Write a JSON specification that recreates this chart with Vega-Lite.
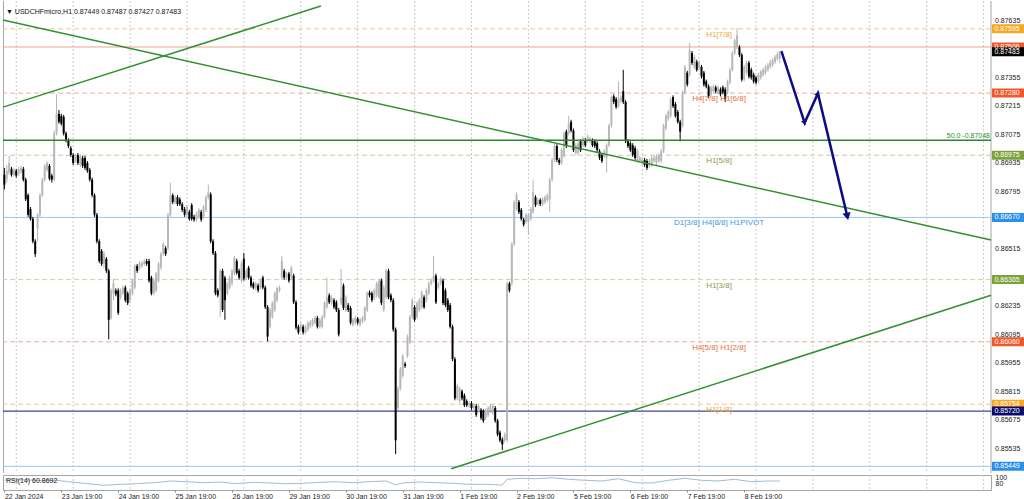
{
"$schema":"https://vega.github.io/schema/vega-lite/v6.json",
"background":"#ffffff",
"padding":{"left":0,"top":0,"right":0,"bottom":0},
"autosize":{"type":"pad"},
"bounds":"flush",
"spacing":2,
"config":{"view":{"stroke":null},"font":"Liberation Sans"},
"datasets":{
"grid":[{"g":5},{"g":29},{"g":53},{"g":77},{"g":101},{"g":125},{"g":149},{"g":173},{"g":197},{"g":221},{"g":245},{"g":269},{"g":293},{"g":317},{"g":341},{"g":365},{"g":389},{"g":413}],
"levels":[
{"p":0.87595,"k":"o","tag":"H1[7/8]"},
{"p":0.87506,"k":"p","tag":""},
{"p":0.87483,"k":"k","tag":""},
{"p":0.8728,"k":"r","tag":"H4[7/8] H1[6/8]"},
{"p":0.86975,"k":"g","tag":"H1[5/8]"},
{"p":0.8667,"k":"b","tag":"D1[3/8] H4[8/8] H1PIVOT"},
{"p":0.86365,"k":"g","tag":"H1[3/8]"},
{"p":0.8606,"k":"r","tag":"H4[5/8] H1[2/8]"},
{"p":0.85754,"k":"o","tag":"H1[1/8]"},
{"p":0.8572,"k":"n","tag":""},
{"p":0.85449,"k":"b","tag":""}
],
"ticks":[{"p":0.87635},{"p":0.87355},{"p":0.87215},{"p":0.87075},{"p":0.86935},{"p":0.86795},{"p":0.86515},{"p":0.86375},{"p":0.86235},{"p":0.86095},{"p":0.85955},{"p":0.85815},{"p":0.85675},{"p":0.85535}],
"trend":[{"id":"a","i":-0.59,"p":0.87211},{"id":"a","i":133.5,"p":0.87707},{"id":"b","i":-0.59,"p":0.87638},{"id":"b","i":416.1,"p":0.86559},{"id":"c","i":188.4,"p":0.85437},{"id":"c","i":416.1,"p":0.86288}],
"arrow":[{"n":0,"i":327.7,"p":0.87486},{"n":1,"i":337.5,"p":0.87134},{"n":2,"i":343.1,"p":0.87278},{"n":3,"i":355.5,"p":0.86675}],
"rsi":[{"i":0,"v":91.3},{"i":8,"v":92.3},{"i":15,"v":89.7},{"i":22,"v":90.3},{"i":27,"v":85.7},{"i":35,"v":79.0},{"i":42,"v":73.7},{"i":49,"v":77.0},{"i":56,"v":79.0},{"i":63,"v":82.3},{"i":70,"v":88.0},{"i":77,"v":85.7},{"i":84,"v":82.3},{"i":91,"v":84.7},{"i":98,"v":79.0},{"i":105,"v":83.7},{"i":112,"v":81.3},{"i":119,"v":79.0},{"i":126,"v":80.3},{"i":133,"v":83.7},{"i":140,"v":85.7},{"i":147,"v":82.3},{"i":154,"v":85.7},{"i":161,"v":88.0},{"i":165,"v":75.0},{"i":168,"v":81.3},{"i":175,"v":84.7},{"i":182,"v":82.3},{"i":189,"v":80.3},{"i":196,"v":77.0},{"i":203,"v":77.0},{"i":210,"v":74.7},{"i":212,"v":93.7},{"i":218,"v":97.0},{"i":224,"v":95.7},{"i":231,"v":99.0},{"i":238,"v":93.7},{"i":245,"v":90.3},{"i":252,"v":88.0},{"i":259,"v":95.7},{"i":266,"v":82.3},{"i":273,"v":81.3},{"i":280,"v":90.3},{"i":287,"v":97.0},{"i":294,"v":90.3},{"i":301,"v":88.0},{"i":308,"v":93.7},{"i":315,"v":85.7},{"i":322,"v":88.0},{"i":327,"v":88.0}],
"candles":[
{"i":0,"o":0.86879,"h":0.86913,"l":0.86807,"c":0.86831},
{"i":1,"o":0.8686,"h":0.86927,"l":0.86841,"c":0.86899},
{"i":2,"o":0.86889,"h":0.86972,"l":0.86879,"c":0.86937},
{"i":3,"o":0.86908,"h":0.86918,"l":0.8687,"c":0.86879},
{"i":4,"o":0.86879,"h":0.86913,"l":0.8687,"c":0.86903},
{"i":5,"o":0.86899,"h":0.86908,"l":0.86865,"c":0.86875},
{"i":6,"o":0.86884,"h":0.86918,"l":0.86875,"c":0.86908},
{"i":7,"o":0.86894,"h":0.86923,"l":0.86884,"c":0.86913},
{"i":8,"o":0.86908,"h":0.86918,"l":0.86846,"c":0.86855},
{"i":9,"o":0.86855,"h":0.86865,"l":0.8675,"c":0.86759},
{"i":10,"o":0.86779,"h":0.86788,"l":0.86673,"c":0.86683},
{"i":11,"o":0.86711,"h":0.86721,"l":0.86654,"c":0.86663},
{"i":12,"o":0.86663,"h":0.86673,"l":0.86543,"c":0.86553},
{"i":13,"o":0.86553,"h":0.86563,"l":0.86476,"c":0.86491},
{"i":14,"o":0.86615,"h":0.86692,"l":0.86553,"c":0.86683},
{"i":15,"o":0.86683,"h":0.86788,"l":0.86673,"c":0.86779},
{"i":16,"o":0.86779,"h":0.86865,"l":0.86769,"c":0.86855},
{"i":17,"o":0.86855,"h":0.86932,"l":0.86846,"c":0.86923},
{"i":18,"o":0.86903,"h":0.86947,"l":0.86894,"c":0.86937},
{"i":19,"o":0.86923,"h":0.86932,"l":0.86851,"c":0.8686},
{"i":20,"o":0.86875,"h":0.86884,"l":0.86841,"c":0.86855},
{"i":21,"o":0.86855,"h":0.87096,"l":0.86846,"c":0.87082},
{"i":22,"o":0.87082,"h":0.87274,"l":0.87072,"c":0.87178},
{"i":23,"o":0.87178,"h":0.87197,"l":0.8713,"c":0.87139},
{"i":24,"o":0.87168,"h":0.87178,"l":0.8712,"c":0.8713},
{"i":25,"o":0.87163,"h":0.87173,"l":0.87072,"c":0.87082},
{"i":26,"o":0.87082,"h":0.87091,"l":0.87038,"c":0.87048},
{"i":27,"o":0.87048,"h":0.87058,"l":0.8701,"c":0.8702},
{"i":28,"o":0.8701,"h":0.8702,"l":0.86967,"c":0.86976},
{"i":29,"o":0.86976,"h":0.86986,"l":0.86927,"c":0.86937},
{"i":30,"o":0.86947,"h":0.86981,"l":0.86937,"c":0.86972},
{"i":31,"o":0.86976,"h":0.86986,"l":0.86927,"c":0.86937},
{"i":32,"o":0.86927,"h":0.86981,"l":0.86918,"c":0.86972},
{"i":33,"o":0.86962,"h":0.86972,"l":0.86913,"c":0.86923},
{"i":34,"o":0.86962,"h":0.86972,"l":0.86903,"c":0.86913},
{"i":35,"o":0.86937,"h":0.86947,"l":0.86889,"c":0.86899},
{"i":36,"o":0.86903,"h":0.86913,"l":0.86846,"c":0.86855},
{"i":37,"o":0.86855,"h":0.86865,"l":0.86769,"c":0.86779},
{"i":38,"o":0.86779,"h":0.86788,"l":0.86673,"c":0.86683},
{"i":39,"o":0.86683,"h":0.86692,"l":0.86543,"c":0.86553},
{"i":40,"o":0.86553,"h":0.86563,"l":0.86446,"c":0.86456},
{"i":41,"o":0.86505,"h":0.86515,"l":0.86432,"c":0.86442},
{"i":42,"o":0.86442,"h":0.86505,"l":0.86423,"c":0.86491},
{"i":43,"o":0.86467,"h":0.86476,"l":0.86398,"c":0.86408},
{"i":44,"o":0.86408,"h":0.86418,"l":0.86072,"c":0.86168},
{"i":45,"o":0.86177,"h":0.86322,"l":0.86168,"c":0.86312},
{"i":46,"o":0.86298,"h":0.8637,"l":0.86264,"c":0.86346},
{"i":47,"o":0.86312,"h":0.86322,"l":0.86283,"c":0.86293},
{"i":48,"o":0.86312,"h":0.86322,"l":0.86192,"c":0.86202},
{"i":49,"o":0.86278,"h":0.86322,"l":0.86269,"c":0.86312},
{"i":50,"o":0.86298,"h":0.86336,"l":0.86288,"c":0.86326},
{"i":51,"o":0.86326,"h":0.86336,"l":0.86254,"c":0.86264},
{"i":52,"o":0.86298,"h":0.86307,"l":0.8624,"c":0.8625},
{"i":53,"o":0.86264,"h":0.86322,"l":0.86254,"c":0.86312},
{"i":54,"o":0.86298,"h":0.8637,"l":0.86288,"c":0.8636},
{"i":55,"o":0.86326,"h":0.86442,"l":0.86317,"c":0.86432},
{"i":56,"o":0.86432,"h":0.86442,"l":0.86398,"c":0.86408},
{"i":57,"o":0.86423,"h":0.86456,"l":0.86413,"c":0.86446},
{"i":58,"o":0.86432,"h":0.86456,"l":0.86423,"c":0.86446},
{"i":59,"o":0.86442,"h":0.86467,"l":0.86432,"c":0.86456},
{"i":60,"o":0.86456,"h":0.86467,"l":0.86432,"c":0.86442},
{"i":61,"o":0.86456,"h":0.86467,"l":0.8635,"c":0.8636},
{"i":62,"o":0.86375,"h":0.86384,"l":0.86288,"c":0.86298},
{"i":63,"o":0.86298,"h":0.8637,"l":0.86288,"c":0.8636},
{"i":64,"o":0.86312,"h":0.86403,"l":0.86302,"c":0.86394},
{"i":65,"o":0.8636,"h":0.86451,"l":0.8635,"c":0.86442},
{"i":66,"o":0.86423,"h":0.865,"l":0.86413,"c":0.86491},
{"i":67,"o":0.86491,"h":0.86548,"l":0.86481,"c":0.86539},
{"i":68,"o":0.86519,"h":0.86529,"l":0.86481,"c":0.86491},
{"i":69,"o":0.86519,"h":0.86692,"l":0.8651,"c":0.86683},
{"i":70,"o":0.86683,"h":0.86841,"l":0.86673,"c":0.86779},
{"i":71,"o":0.86779,"h":0.86788,"l":0.86735,"c":0.86745},
{"i":72,"o":0.86745,"h":0.86779,"l":0.86735,"c":0.86769},
{"i":73,"o":0.86769,"h":0.86779,"l":0.86726,"c":0.86735},
{"i":74,"o":0.86759,"h":0.86769,"l":0.86726,"c":0.86735},
{"i":75,"o":0.86735,"h":0.86745,"l":0.86697,"c":0.86707},
{"i":76,"o":0.86711,"h":0.86721,"l":0.86673,"c":0.86683},
{"i":77,"o":0.86683,"h":0.86731,"l":0.86673,"c":0.86721},
{"i":78,"o":0.86697,"h":0.86707,"l":0.86654,"c":0.86663},
{"i":79,"o":0.86731,"h":0.8674,"l":0.86654,"c":0.86663},
{"i":80,"o":0.86673,"h":0.86683,"l":0.86649,"c":0.86659},
{"i":81,"o":0.86659,"h":0.86697,"l":0.86649,"c":0.86687},
{"i":82,"o":0.86673,"h":0.86716,"l":0.86663,"c":0.86707},
{"i":83,"o":0.86697,"h":0.86707,"l":0.86649,"c":0.86659},
{"i":84,"o":0.86673,"h":0.86731,"l":0.86663,"c":0.86721},
{"i":85,"o":0.86707,"h":0.86779,"l":0.86697,"c":0.86769},
{"i":86,"o":0.86769,"h":0.86831,"l":0.86759,"c":0.86793},
{"i":87,"o":0.86783,"h":0.86793,"l":0.86543,"c":0.86553},
{"i":88,"o":0.86553,"h":0.86563,"l":0.86486,"c":0.86495},
{"i":89,"o":0.86495,"h":0.86505,"l":0.86288,"c":0.86298},
{"i":90,"o":0.86312,"h":0.86322,"l":0.86278,"c":0.86288},
{"i":91,"o":0.86312,"h":0.86418,"l":0.86182,"c":0.86408},
{"i":92,"o":0.86408,"h":0.86418,"l":0.86206,"c":0.86216},
{"i":93,"o":0.86375,"h":0.86384,"l":0.86168,"c":0.86264},
{"i":94,"o":0.86298,"h":0.86355,"l":0.86288,"c":0.86346},
{"i":95,"o":0.86326,"h":0.86384,"l":0.86317,"c":0.86375},
{"i":96,"o":0.86346,"h":0.86418,"l":0.86336,"c":0.86408},
{"i":97,"o":0.86394,"h":0.86481,"l":0.86384,"c":0.86471},
{"i":98,"o":0.86456,"h":0.86467,"l":0.86389,"c":0.86398},
{"i":99,"o":0.86408,"h":0.86418,"l":0.86365,"c":0.86375},
{"i":100,"o":0.8636,"h":0.86456,"l":0.8635,"c":0.86446},
{"i":101,"o":0.86467,"h":0.86495,"l":0.8636,"c":0.8637},
{"i":102,"o":0.86375,"h":0.86418,"l":0.86365,"c":0.86408},
{"i":103,"o":0.86423,"h":0.86432,"l":0.86365,"c":0.86375},
{"i":104,"o":0.86375,"h":0.86384,"l":0.86326,"c":0.86336},
{"i":105,"o":0.86346,"h":0.86355,"l":0.86317,"c":0.86326},
{"i":106,"o":0.86322,"h":0.86355,"l":0.86312,"c":0.86346},
{"i":107,"o":0.86336,"h":0.86346,"l":0.86302,"c":0.86312},
{"i":108,"o":0.86326,"h":0.8637,"l":0.86317,"c":0.8636},
{"i":109,"o":0.86375,"h":0.86384,"l":0.86317,"c":0.86326},
{"i":110,"o":0.86326,"h":0.86336,"l":0.86221,"c":0.8623},
{"i":111,"o":0.8623,"h":0.8624,"l":0.86062,"c":0.86086},
{"i":112,"o":0.86134,"h":0.86226,"l":0.86125,"c":0.86216},
{"i":113,"o":0.86182,"h":0.86259,"l":0.86173,"c":0.8625},
{"i":114,"o":0.86216,"h":0.86307,"l":0.86206,"c":0.86298},
{"i":115,"o":0.86264,"h":0.86331,"l":0.86254,"c":0.86322},
{"i":116,"o":0.86312,"h":0.86336,"l":0.86302,"c":0.86326},
{"i":117,"o":0.86375,"h":0.86481,"l":0.86365,"c":0.86456},
{"i":118,"o":0.86408,"h":0.86418,"l":0.86365,"c":0.86375},
{"i":119,"o":0.86375,"h":0.86403,"l":0.86365,"c":0.86394},
{"i":120,"o":0.86394,"h":0.86403,"l":0.8635,"c":0.8636},
{"i":121,"o":0.86375,"h":0.86432,"l":0.86365,"c":0.86423},
{"i":122,"o":0.86384,"h":0.86394,"l":0.86245,"c":0.86254},
{"i":123,"o":0.86254,"h":0.86264,"l":0.8612,"c":0.8613},
{"i":124,"o":0.86134,"h":0.86144,"l":0.86096,"c":0.86106},
{"i":125,"o":0.8612,"h":0.86154,"l":0.8611,"c":0.86144},
{"i":126,"o":0.86134,"h":0.86144,"l":0.86096,"c":0.86106},
{"i":127,"o":0.86106,"h":0.86144,"l":0.86096,"c":0.86134},
{"i":128,"o":0.8612,"h":0.86163,"l":0.8611,"c":0.86154},
{"i":129,"o":0.86134,"h":0.86168,"l":0.86125,"c":0.86158},
{"i":130,"o":0.86144,"h":0.86177,"l":0.86134,"c":0.86168},
{"i":131,"o":0.86154,"h":0.86187,"l":0.86144,"c":0.86177},
{"i":132,"o":0.86177,"h":0.86187,"l":0.86125,"c":0.86134},
{"i":133,"o":0.86134,"h":0.86177,"l":0.86125,"c":0.86168},
{"i":134,"o":0.86134,"h":0.86192,"l":0.86125,"c":0.86182},
{"i":135,"o":0.86182,"h":0.86259,"l":0.86173,"c":0.8625},
{"i":136,"o":0.8623,"h":0.86375,"l":0.86221,"c":0.86278},
{"i":137,"o":0.86288,"h":0.86298,"l":0.86245,"c":0.86254},
{"i":138,"o":0.8625,"h":0.86288,"l":0.8624,"c":0.86278},
{"i":139,"o":0.86264,"h":0.86274,"l":0.86221,"c":0.8623},
{"i":140,"o":0.86254,"h":0.86264,"l":0.86206,"c":0.86216},
{"i":141,"o":0.86216,"h":0.86226,"l":0.86086,"c":0.86096},
{"i":142,"o":0.8625,"h":0.86418,"l":0.8624,"c":0.86278},
{"i":143,"o":0.86336,"h":0.86346,"l":0.86216,"c":0.86226},
{"i":144,"o":0.86216,"h":0.86288,"l":0.86206,"c":0.86278},
{"i":145,"o":0.8624,"h":0.8625,"l":0.86206,"c":0.86216},
{"i":146,"o":0.86226,"h":0.86235,"l":0.86144,"c":0.86154},
{"i":147,"o":0.86144,"h":0.86177,"l":0.86134,"c":0.86168},
{"i":148,"o":0.86154,"h":0.86187,"l":0.86144,"c":0.86177},
{"i":149,"o":0.86173,"h":0.86182,"l":0.86144,"c":0.86154},
{"i":150,"o":0.86144,"h":0.86177,"l":0.86134,"c":0.86168},
{"i":151,"o":0.86158,"h":0.86187,"l":0.86149,"c":0.86177},
{"i":152,"o":0.86168,"h":0.86235,"l":0.86158,"c":0.86226},
{"i":153,"o":0.86216,"h":0.86307,"l":0.86206,"c":0.86298},
{"i":154,"o":0.86302,"h":0.86312,"l":0.86278,"c":0.86288},
{"i":155,"o":0.86298,"h":0.86307,"l":0.86254,"c":0.86264},
{"i":156,"o":0.86274,"h":0.86322,"l":0.86264,"c":0.86312},
{"i":157,"o":0.86288,"h":0.86355,"l":0.86278,"c":0.86346},
{"i":158,"o":0.86278,"h":0.8637,"l":0.86269,"c":0.8636},
{"i":159,"o":0.8636,"h":0.8637,"l":0.8624,"c":0.8625},
{"i":160,"o":0.86216,"h":0.86336,"l":0.86206,"c":0.86326},
{"i":161,"o":0.86278,"h":0.86418,"l":0.86269,"c":0.86408},
{"i":162,"o":0.86408,"h":0.86418,"l":0.86269,"c":0.86278},
{"i":163,"o":0.86288,"h":0.86298,"l":0.86254,"c":0.86264},
{"i":164,"o":0.86264,"h":0.86274,"l":0.8611,"c":0.8612},
{"i":165,"o":0.8612,"h":0.8613,"l":0.85509,"c":0.85577},
{"i":166,"o":0.85735,"h":0.85841,"l":0.85725,"c":0.85831},
{"i":167,"o":0.85831,"h":0.85937,"l":0.85821,"c":0.85927},
{"i":168,"o":0.85893,"h":0.86,"l":0.85884,"c":0.8599},
{"i":169,"o":0.85951,"h":0.85961,"l":0.85932,"c":0.85942},
{"i":170,"o":0.8599,"h":0.86096,"l":0.8598,"c":0.86086},
{"i":171,"o":0.86058,"h":0.86192,"l":0.86048,"c":0.86182},
{"i":172,"o":0.86182,"h":0.86274,"l":0.86173,"c":0.86264},
{"i":173,"o":0.8623,"h":0.8624,"l":0.86158,"c":0.86168},
{"i":174,"o":0.86182,"h":0.86259,"l":0.86173,"c":0.8625},
{"i":175,"o":0.86216,"h":0.86274,"l":0.86206,"c":0.86264},
{"i":176,"o":0.8623,"h":0.86312,"l":0.86221,"c":0.86302},
{"i":177,"o":0.86278,"h":0.86288,"l":0.86221,"c":0.8623},
{"i":178,"o":0.86264,"h":0.86322,"l":0.86254,"c":0.86312},
{"i":179,"o":0.86298,"h":0.86355,"l":0.86288,"c":0.86346},
{"i":180,"o":0.86346,"h":0.8637,"l":0.86336,"c":0.8636},
{"i":181,"o":0.8636,"h":0.86481,"l":0.8635,"c":0.86384},
{"i":182,"o":0.86384,"h":0.86394,"l":0.86245,"c":0.86254},
{"i":183,"o":0.86326,"h":0.86355,"l":0.86317,"c":0.86346},
{"i":184,"o":0.86346,"h":0.86379,"l":0.86336,"c":0.8637},
{"i":185,"o":0.8636,"h":0.8637,"l":0.8624,"c":0.8625},
{"i":186,"o":0.86312,"h":0.86322,"l":0.8623,"c":0.8624},
{"i":187,"o":0.86264,"h":0.86274,"l":0.86206,"c":0.86216},
{"i":188,"o":0.8624,"h":0.8625,"l":0.86125,"c":0.86134},
{"i":189,"o":0.86134,"h":0.86144,"l":0.85965,"c":0.85975},
{"i":190,"o":0.85975,"h":0.85985,"l":0.85773,"c":0.85783},
{"i":191,"o":0.85783,"h":0.85855,"l":0.85773,"c":0.85845},
{"i":192,"o":0.85769,"h":0.85841,"l":0.85759,"c":0.85831},
{"i":193,"o":0.85817,"h":0.85826,"l":0.85773,"c":0.85783},
{"i":194,"o":0.85797,"h":0.85807,"l":0.8574,"c":0.85749},
{"i":195,"o":0.85769,"h":0.85778,"l":0.8574,"c":0.85749},
{"i":196,"o":0.85745,"h":0.85769,"l":0.85735,"c":0.85759},
{"i":197,"o":0.85759,"h":0.85769,"l":0.85725,"c":0.85735},
{"i":198,"o":0.85735,"h":0.85759,"l":0.85725,"c":0.85749},
{"i":199,"o":0.85745,"h":0.85754,"l":0.85692,"c":0.85701},
{"i":200,"o":0.85721,"h":0.85754,"l":0.85711,"c":0.85745},
{"i":201,"o":0.85725,"h":0.85735,"l":0.85677,"c":0.85687},
{"i":202,"o":0.85721,"h":0.8573,"l":0.85663,"c":0.85673},
{"i":203,"o":0.85687,"h":0.85735,"l":0.85677,"c":0.85725},
{"i":204,"o":0.85701,"h":0.85745,"l":0.85692,"c":0.85735},
{"i":205,"o":0.85721,"h":0.85754,"l":0.85711,"c":0.85745},
{"i":206,"o":0.85711,"h":0.85754,"l":0.85701,"c":0.85745},
{"i":207,"o":0.85735,"h":0.85745,"l":0.85663,"c":0.85673},
{"i":208,"o":0.85673,"h":0.85682,"l":0.85596,"c":0.85605},
{"i":209,"o":0.85615,"h":0.85625,"l":0.85567,"c":0.85577},
{"i":210,"o":0.85581,"h":0.85591,"l":0.85529,"c":0.85557},
{"i":211,"o":0.85577,"h":0.85615,"l":0.85567,"c":0.85605},
{"i":212,"o":0.85577,"h":0.86355,"l":0.85567,"c":0.86346},
{"i":213,"o":0.86346,"h":0.86355,"l":0.86302,"c":0.86312},
{"i":214,"o":0.86346,"h":0.86548,"l":0.86336,"c":0.86539},
{"i":215,"o":0.86539,"h":0.86755,"l":0.86529,"c":0.86745},
{"i":216,"o":0.86711,"h":0.86793,"l":0.86702,"c":0.86783},
{"i":217,"o":0.86745,"h":0.86755,"l":0.86687,"c":0.86697},
{"i":218,"o":0.86707,"h":0.86716,"l":0.86654,"c":0.86663},
{"i":219,"o":0.86659,"h":0.86668,"l":0.86625,"c":0.86635},
{"i":220,"o":0.86649,"h":0.86692,"l":0.86639,"c":0.86683},
{"i":221,"o":0.86649,"h":0.86692,"l":0.86587,"c":0.86683},
{"i":222,"o":0.86663,"h":0.86721,"l":0.86654,"c":0.86711},
{"i":223,"o":0.86697,"h":0.86855,"l":0.86687,"c":0.86793},
{"i":224,"o":0.86769,"h":0.86779,"l":0.86721,"c":0.86731},
{"i":225,"o":0.86735,"h":0.86764,"l":0.86726,"c":0.86755},
{"i":226,"o":0.86755,"h":0.86764,"l":0.86726,"c":0.86735},
{"i":227,"o":0.86735,"h":0.86769,"l":0.86726,"c":0.86759},
{"i":228,"o":0.86745,"h":0.86779,"l":0.86735,"c":0.86769},
{"i":229,"o":0.86755,"h":0.86788,"l":0.86745,"c":0.86779},
{"i":230,"o":0.86759,"h":0.86865,"l":0.86697,"c":0.86855},
{"i":231,"o":0.86855,"h":0.86962,"l":0.86846,"c":0.86952},
{"i":232,"o":0.86952,"h":0.87029,"l":0.86942,"c":0.8702},
{"i":233,"o":0.8702,"h":0.87029,"l":0.86942,"c":0.86952},
{"i":234,"o":0.86952,"h":0.86962,"l":0.86927,"c":0.86937},
{"i":235,"o":0.86937,"h":0.8701,"l":0.86927,"c":0.87},
{"i":236,"o":0.86972,"h":0.87091,"l":0.86962,"c":0.87082},
{"i":237,"o":0.87091,"h":0.87101,"l":0.8701,"c":0.8702},
{"i":238,"o":0.87082,"h":0.87168,"l":0.87072,"c":0.8713},
{"i":239,"o":0.87139,"h":0.87149,"l":0.87087,"c":0.87096},
{"i":240,"o":0.87096,"h":0.87106,"l":0.86991,"c":0.87},
{"i":241,"o":0.86986,"h":0.87034,"l":0.86976,"c":0.87024},
{"i":242,"o":0.86986,"h":0.87043,"l":0.86976,"c":0.87034},
{"i":243,"o":0.87043,"h":0.87053,"l":0.86991,"c":0.87},
{"i":244,"o":0.87024,"h":0.87067,"l":0.87015,"c":0.87058},
{"i":245,"o":0.87048,"h":0.87058,"l":0.87015,"c":0.87024},
{"i":246,"o":0.87048,"h":0.87077,"l":0.87038,"c":0.87067},
{"i":247,"o":0.87043,"h":0.87067,"l":0.87034,"c":0.87058},
{"i":248,"o":0.87048,"h":0.87058,"l":0.87015,"c":0.87024},
{"i":249,"o":0.87043,"h":0.87053,"l":0.8701,"c":0.8702},
{"i":250,"o":0.87034,"h":0.87043,"l":0.86991,"c":0.87},
{"i":251,"o":0.86995,"h":0.87005,"l":0.86952,"c":0.86962},
{"i":252,"o":0.86976,"h":0.86986,"l":0.86937,"c":0.86947},
{"i":253,"o":0.86972,"h":0.87005,"l":0.86962,"c":0.86995},
{"i":254,"o":0.86962,"h":0.87034,"l":0.86889,"c":0.87024},
{"i":255,"o":0.87024,"h":0.8713,"l":0.87015,"c":0.8712},
{"i":256,"o":0.8712,"h":0.87269,"l":0.87111,"c":0.8726},
{"i":257,"o":0.87264,"h":0.87274,"l":0.87226,"c":0.87236},
{"i":258,"o":0.8725,"h":0.8726,"l":0.87202,"c":0.87212},
{"i":259,"o":0.87216,"h":0.87337,"l":0.87207,"c":0.8725},
{"i":260,"o":0.8724,"h":0.87269,"l":0.87231,"c":0.8726},
{"i":261,"o":0.87289,"h":0.87394,"l":0.87226,"c":0.87236},
{"i":262,"o":0.87236,"h":0.87245,"l":0.87034,"c":0.87043},
{"i":263,"o":0.87043,"h":0.87053,"l":0.8701,"c":0.8702},
{"i":264,"o":0.87034,"h":0.87043,"l":0.86991,"c":0.87},
{"i":265,"o":0.87024,"h":0.87034,"l":0.86967,"c":0.86976},
{"i":266,"o":0.8701,"h":0.8702,"l":0.86952,"c":0.86962},
{"i":267,"o":0.86947,"h":0.87005,"l":0.86937,"c":0.86995},
{"i":268,"o":0.86947,"h":0.86972,"l":0.86937,"c":0.86962},
{"i":269,"o":0.86937,"h":0.86962,"l":0.86927,"c":0.86952},
{"i":270,"o":0.86952,"h":0.86962,"l":0.86918,"c":0.86927},
{"i":271,"o":0.86947,"h":0.86957,"l":0.86903,"c":0.86913},
{"i":272,"o":0.86923,"h":0.86957,"l":0.86913,"c":0.86947},
{"i":273,"o":0.86927,"h":0.86972,"l":0.86918,"c":0.86962},
{"i":274,"o":0.86947,"h":0.86972,"l":0.86937,"c":0.86962},
{"i":275,"o":0.86937,"h":0.86981,"l":0.86927,"c":0.86972},
{"i":276,"o":0.86947,"h":0.86986,"l":0.86937,"c":0.86976},
{"i":277,"o":0.86947,"h":0.87005,"l":0.86937,"c":0.86995},
{"i":278,"o":0.86995,"h":0.8713,"l":0.86986,"c":0.8712},
{"i":279,"o":0.87106,"h":0.87178,"l":0.87096,"c":0.87168},
{"i":280,"o":0.87154,"h":0.87197,"l":0.87144,"c":0.87187},
{"i":281,"o":0.87168,"h":0.8726,"l":0.87159,"c":0.8725},
{"i":282,"o":0.8726,"h":0.87269,"l":0.87207,"c":0.87216},
{"i":283,"o":0.87226,"h":0.87236,"l":0.87159,"c":0.87168},
{"i":284,"o":0.87187,"h":0.87197,"l":0.8713,"c":0.87139},
{"i":285,"o":0.87139,"h":0.87149,"l":0.87043,"c":0.87091},
{"i":286,"o":0.8712,"h":0.87293,"l":0.87111,"c":0.87284},
{"i":287,"o":0.87284,"h":0.87418,"l":0.87274,"c":0.87409},
{"i":288,"o":0.8738,"h":0.87389,"l":0.87312,"c":0.87322},
{"i":289,"o":0.8737,"h":0.87525,"l":0.8736,"c":0.87491},
{"i":290,"o":0.87476,"h":0.87486,"l":0.87418,"c":0.87428},
{"i":291,"o":0.87409,"h":0.87467,"l":0.87399,"c":0.87457},
{"i":292,"o":0.87433,"h":0.87443,"l":0.87385,"c":0.87394},
{"i":293,"o":0.87404,"h":0.87438,"l":0.87394,"c":0.87428},
{"i":294,"o":0.87409,"h":0.87418,"l":0.87351,"c":0.87361},
{"i":295,"o":0.8738,"h":0.87389,"l":0.87312,"c":0.87322},
{"i":296,"o":0.87337,"h":0.87346,"l":0.87303,"c":0.87312},
{"i":297,"o":0.87312,"h":0.87322,"l":0.87255,"c":0.87264},
{"i":298,"o":0.87274,"h":0.87317,"l":0.87264,"c":0.87308},
{"i":299,"o":0.87289,"h":0.87322,"l":0.87279,"c":0.87312},
{"i":300,"o":0.87308,"h":0.87317,"l":0.87279,"c":0.87289},
{"i":301,"o":0.87284,"h":0.87317,"l":0.87274,"c":0.87308},
{"i":302,"o":0.87298,"h":0.87308,"l":0.87264,"c":0.87274},
{"i":303,"o":0.87308,"h":0.87317,"l":0.87274,"c":0.87284},
{"i":304,"o":0.87298,"h":0.87308,"l":0.87236,"c":0.8725},
{"i":305,"o":0.87284,"h":0.87346,"l":0.87274,"c":0.87337},
{"i":306,"o":0.87332,"h":0.87404,"l":0.87322,"c":0.87394},
{"i":307,"o":0.87394,"h":0.87486,"l":0.87385,"c":0.87476},
{"i":308,"o":0.87476,"h":0.87548,"l":0.87467,"c":0.87539},
{"i":309,"o":0.87505,"h":0.87597,"l":0.87496,"c":0.87563},
{"i":310,"o":0.87505,"h":0.87515,"l":0.87457,"c":0.87467},
{"i":311,"o":0.87467,"h":0.87476,"l":0.87337,"c":0.87346},
{"i":312,"o":0.87346,"h":0.87418,"l":0.87337,"c":0.87409},
{"i":313,"o":0.8738,"h":0.87438,"l":0.8737,"c":0.87428},
{"i":314,"o":0.87428,"h":0.87438,"l":0.87351,"c":0.87361},
{"i":315,"o":0.87394,"h":0.87404,"l":0.87346,"c":0.87356},
{"i":316,"o":0.8737,"h":0.8738,"l":0.87327,"c":0.87337},
{"i":317,"o":0.87356,"h":0.87365,"l":0.87322,"c":0.87332},
{"i":318,"o":0.87337,"h":0.8738,"l":0.87327,"c":0.8737},
{"i":319,"o":0.87356,"h":0.87394,"l":0.87346,"c":0.87385},
{"i":320,"o":0.8737,"h":0.87404,"l":0.87361,"c":0.87394},
{"i":321,"o":0.8738,"h":0.87418,"l":0.8737,"c":0.87409},
{"i":322,"o":0.87394,"h":0.87428,"l":0.87385,"c":0.87418},
{"i":323,"o":0.87409,"h":0.87443,"l":0.87399,"c":0.87433},
{"i":324,"o":0.87418,"h":0.87452,"l":0.87409,"c":0.87443},
{"i":325,"o":0.87433,"h":0.87467,"l":0.87423,"c":0.87457},
{"i":326,"o":0.87447,"h":0.87481,"l":0.87438,"c":0.87471},
{"i":327,"o":0.87449,"h":0.87487,"l":0.87427,"c":0.87483}
]
},
"vconcat":[
{
"width":988,"height":472,
"resolve":{"scale":{"color":"independent","strokeDash":"independent"}},
"layer":[
{"data":{"name":"grid"},"mark":{"type":"rule","color":"#cacaca","strokeDash":[2,2],"strokeWidth":1},
 "encoding":{"x":{"field":"g","type":"quantitative","scale":{"type":"linear","domain":[-0.59,416.1],"nice":false,"zero":false},"axis":null}}},
{"data":{"values":[{"b":416.1},{"b":-0.38}]},"mark":{"type":"rule","color":"#a6a6a6","strokeWidth":1},
 "encoding":{"x":{"field":"b","type":"quantitative","scale":{"type":"linear","domain":[-0.59,416.1],"nice":false,"zero":false},"axis":null}}},
{"data":{"name":"levels"},"transform":[{"filter":"datum.k != 'k'"}],"mark":{"type":"rule","strokeWidth":1},
 "encoding":{"y":{"field":"p","type":"quantitative","scale":{"type":"linear","domain":[0.85441,0.87707],"nice":false,"zero":false},"axis":null},
  "color":{"field":"k","type":"nominal","scale":{"domain":["o","p","r","g","b","n"],"range":["#eec489","#f2a091","#e2b095","#c9cf9e","#9cc7ee","#14147a"]},"legend":null},
  "strokeDash":{"field":"k","type":"nominal","scale":{"domain":["o","p","r","g","b","n"],"range":[[5,3],[1,0],[5,3],[5,3],[1,0],[1,0]]},"legend":null}}},
{"data":{"name":"candles"},"mark":{"type":"rule","strokeWidth":1,"clip":true},
 "encoding":{"x":{"field":"i","type":"quantitative","scale":{"type":"linear","domain":[-0.59,416.1],"nice":false,"zero":false},"axis":null},
  "y":{"field":"l","type":"quantitative","scale":{"type":"linear","domain":[0.85441,0.87707],"nice":false,"zero":false},"axis":null},
  "y2":{"field":"h"},
  "color":{"condition":{"test":"datum.c >= datum.o","value":"#b4b4b4"},"value":"#000000"}}},
{"data":{"name":"candles"},"mark":{"type":"rule","strokeWidth":2,"strokeCap":"butt","clip":true},
 "encoding":{"x":{"field":"i","type":"quantitative","scale":{"type":"linear","domain":[-0.59,416.1],"nice":false,"zero":false},"axis":null},
  "y":{"field":"o","type":"quantitative","scale":{"type":"linear","domain":[0.85441,0.87707],"nice":false,"zero":false},"axis":null},
  "y2":{"field":"c"},
  "color":{"condition":{"test":"datum.c >= datum.o","value":"#b8b8b8"},"value":"#000000"}}},
{"data":{"name":"trend"},"mark":{"type":"line","color":"#329032","strokeWidth":1.5},
 "encoding":{"x":{"field":"i","type":"quantitative","scale":{"type":"linear","domain":[-0.59,416.1],"nice":false,"zero":false},"axis":null},
  "y":{"field":"p","type":"quantitative","scale":{"type":"linear","domain":[0.85441,0.87707],"nice":false,"zero":false},"axis":null},
  "detail":{"field":"id","type":"nominal"}}},
{"data":{"values":[{"p":0.87048,"t":"50.0 -0.87048"}]},"mark":{"type":"rule","color":"#2a8a2a","strokeWidth":1.5},
 "encoding":{"y":{"field":"p","type":"quantitative","scale":{"type":"linear","domain":[0.85441,0.87707],"nice":false,"zero":false},"axis":null}}},
{"data":{"values":[{"p":0.87048,"t":"50.0 -0.87048"}]},"mark":{"type":"text","color":"#2a8a2a","fontSize":7,"align":"right","baseline":"bottom","dx":-1,"dy":-1},
 "encoding":{"x":{"datum":416.1,"type":"quantitative","scale":{"type":"linear","domain":[-0.59,416.1],"nice":false,"zero":false},"axis":null},
  "y":{"field":"p","type":"quantitative","scale":{"type":"linear","domain":[0.85441,0.87707],"nice":false,"zero":false},"axis":null},
  "text":{"field":"t"}}},
{"data":{"name":"levels"},"transform":[{"filter":"datum.tag != ''"}],"mark":{"type":"text","fontSize":8,"align":"center","baseline":"middle","dy":6},
 "encoding":{"x":{"datum":301.4,"type":"quantitative","scale":{"type":"linear","domain":[-0.59,416.1],"nice":false,"zero":false},"axis":null},
  "y":{"field":"p","type":"quantitative","scale":{"type":"linear","domain":[0.85441,0.87707],"nice":false,"zero":false},"axis":null},
  "text":{"field":"tag"},
  "color":{"field":"k","type":"nominal","scale":{"domain":["o","r","g","b"],"range":["#eaa53f","#e2703c","#86a046","#3f95e0"]},"legend":null}}},
{"data":{"name":"arrow"},"mark":{"type":"line","color":"#0c0c84","strokeWidth":2.5},
 "encoding":{"x":{"field":"i","type":"quantitative","scale":{"type":"linear","domain":[-0.59,416.1],"nice":false,"zero":false},"axis":null},
  "y":{"field":"p","type":"quantitative","scale":{"type":"linear","domain":[0.85441,0.87707],"nice":false,"zero":false},"axis":null},
  "order":{"field":"n","type":"quantitative"}}},
{"data":{"name":"arrow"},"transform":[{"filter":"datum.n == 3"}],"mark":{"type":"point","shape":"triangle-down","angle":347,"size":70,"filled":true,"opacity":1,"color":"#0c0c84"},
 "encoding":{"x":{"field":"i","type":"quantitative","scale":{"type":"linear","domain":[-0.59,416.1],"nice":false,"zero":false},"axis":null},
  "y":{"field":"p","type":"quantitative","scale":{"type":"linear","domain":[0.85441,0.87707],"nice":false,"zero":false},"axis":null}}},
{"data":{"name":"arrow"},"transform":[{"filter":"datum.n == 1"}],"mark":{"type":"point","shape":"triangle-down","angle":342,"size":35,"filled":true,"opacity":1,"color":"#0c0c84"},
 "encoding":{"x":{"field":"i","type":"quantitative","scale":{"type":"linear","domain":[-0.59,416.1],"nice":false,"zero":false},"axis":null},
  "y":{"field":"p","type":"quantitative","scale":{"type":"linear","domain":[0.85441,0.87707],"nice":false,"zero":false},"axis":null}}},
{"data":{"name":"arrow"},"transform":[{"filter":"datum.n == 2"}],"mark":{"type":"point","shape":"triangle-up","angle":24,"size":35,"filled":true,"opacity":1,"color":"#0c0c84"},
 "encoding":{"x":{"field":"i","type":"quantitative","scale":{"type":"linear","domain":[-0.59,416.1],"nice":false,"zero":false},"axis":null},
  "y":{"field":"p","type":"quantitative","scale":{"type":"linear","domain":[0.85441,0.87707],"nice":false,"zero":false},"axis":null}}},
{"data":{"name":"ticks"},"mark":{"type":"text","fontSize":7,"align":"left","baseline":"middle","dx":4,"color":"#222222"},
 "encoding":{"x":{"datum":416.1,"type":"quantitative","scale":{"type":"linear","domain":[-0.59,416.1],"nice":false,"zero":false},"axis":null},
  "y":{"field":"p","type":"quantitative","scale":{"type":"linear","domain":[0.85441,0.87707],"nice":false,"zero":false},"axis":null},
  "text":{"field":"p","type":"quantitative","format":".5f"}}},
{"data":{"name":"levels"},"mark":{"type":"bar","orient":"horizontal","size":9},
 "encoding":{"x":{"datum":416.5,"type":"quantitative","scale":{"type":"linear","domain":[-0.59,416.1],"nice":false,"zero":false},"axis":null},
  "x2":{"datum":430.4},
  "y":{"field":"p","type":"quantitative","scale":{"type":"linear","domain":[0.85441,0.87707],"nice":false,"zero":false},"axis":null},
  "color":{"field":"k","type":"nominal","scale":{"domain":["o","p","k","r","g","b","n"],"range":["#f6a623","#f0582a","#000000","#f0582a","#7da23c","#2a90ea","#0b0b6e"]},"legend":null}}},
{"data":{"name":"levels"},"mark":{"type":"text","fontSize":7,"align":"left","baseline":"middle","dx":2.5,"color":"#ffffff"},
 "encoding":{"x":{"datum":416.5,"type":"quantitative","scale":{"type":"linear","domain":[-0.59,416.1],"nice":false,"zero":false},"axis":null},
  "y":{"field":"p","type":"quantitative","scale":{"type":"linear","domain":[0.85441,0.87707],"nice":false,"zero":false},"axis":null},
  "text":{"field":"p","type":"quantitative","format":".5f"}}},
{"data":{"values":[{"t":"▼ USDCHFmicro,H1  0.87449 0.87487 0.87427 0.87483"}]},"mark":{"type":"text","fontSize":7,"align":"left","baseline":"top","dx":3,"dy":2,"color":"#111111"},
 "encoding":{"x":{"datum":-0.59,"type":"quantitative","scale":{"type":"linear","domain":[-0.59,416.1],"nice":false,"zero":false},"axis":null},
  "y":{"datum":0.87707,"type":"quantitative","scale":{"type":"linear","domain":[0.85441,0.87707],"nice":false,"zero":false},"axis":null},
  "text":{"field":"t"}}}
]
},
{
"width":988,"height":15,
"view":{"stroke":"#a6a6a6"},
"layer":[
{"data":{"name":"rsi"},"mark":{"type":"line","color":"#9fbdd3","strokeWidth":1},
 "encoding":{"x":{"field":"i","type":"quantitative","scale":{"type":"linear","domain":[-0.59,416.1],"nice":false,"zero":false},
   "axis":{"orient":"bottom","values":[0,24,48,72,96,120,144,168,192,216,240,264,288,312],"labelExpr":"datum.value==0?'22 Jan 2024':datum.value==24?'23 Jan 19:00':datum.value==48?'24 Jan 19:00':datum.value==72?'25 Jan 19:00':datum.value==96?'26 Jan 19:00':datum.value==120?'29 Jan 19:00':datum.value==144?'30 Jan 19:00':datum.value==168?'31 Jan 19:00':datum.value==192?'1 Feb 19:00':datum.value==216?'2 Feb 19:00':datum.value==240?'5 Feb 19:00':datum.value==264?'6 Feb 19:00':datum.value==288?'7 Feb 19:00':'8 Feb 19:00'","labelAlign":"left","labelFontSize":7,"labelColor":"#222222","tickSize":2,"tickColor":"#888888","domain":false,"grid":false,"title":null,"labelPadding":0}},
  "y":{"field":"v","type":"quantitative","scale":{"type":"linear","domain":[58,108],"nice":false,"zero":false},
   "axis":{"orient":"right","values":[100,80],"labelFontSize":7,"labelColor":"#222222","ticks":false,"domain":false,"grid":false,"title":null,"labelPadding":4}}}},
{"data":{"name":"grid"},"mark":{"type":"rule","color":"#cacaca","strokeDash":[2,2],"strokeWidth":1},
 "encoding":{"x":{"field":"g","type":"quantitative","scale":{"type":"linear","domain":[-0.59,416.1],"nice":false,"zero":false}}}},
{"data":{"values":[{"t":"RSI(14) 60.8692"}]},"mark":{"type":"text","fontSize":7,"align":"left","baseline":"top","dx":3,"dy":2,"color":"#111111"},
 "encoding":{"x":{"datum":-0.59,"type":"quantitative","scale":{"type":"linear","domain":[-0.59,416.1],"nice":false,"zero":false}},
  "y":{"datum":108,"type":"quantitative","scale":{"type":"linear","domain":[58,108],"nice":false,"zero":false}},
  "text":{"field":"t"}}}
]
}
]
}
